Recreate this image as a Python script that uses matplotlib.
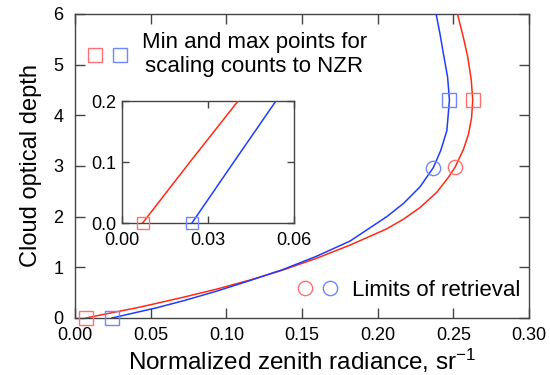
import matplotlib
matplotlib.use("Agg")
import matplotlib.pyplot as plt
from matplotlib.lines import Line2D
from matplotlib.legend_handler import HandlerTuple

plt.rcParams["font.family"] = ["Liberation Sans", "DejaVu Sans"]
plt.rcParams["mathtext.default"] = "regular"

# curves: normalized zenith radiance vs cloud optical depth
red_nzr = [0.0072, 0.0237, 0.0405, 0.0496, 0.0716, 0.0936, 0.1157, 0.1377,
           0.1597, 0.1818, 0.2060, 0.2170, 0.2280, 0.2390, 0.2468, 0.2512,
           0.2567, 0.2600, 0.2620, 0.2628, 0.2618, 0.2595, 0.2565, 0.2527]
red_tau = [0.0, 0.10, 0.20, 0.26, 0.41, 0.57, 0.75, 0.95,
           1.18, 1.44, 1.76, 1.95, 2.18, 2.48, 2.78, 2.98,
           3.33, 3.63, 3.95, 4.30, 4.70, 5.15, 5.55, 6.00]
blue_nzr = [0.0244, 0.0390, 0.0537, 0.0716, 0.0936, 0.1157, 0.1377, 0.1597,
            0.1818, 0.2060, 0.2170, 0.2280, 0.2368, 0.2417, 0.2457, 0.2474,
            0.2462, 0.2434, 0.2412, 0.2386]
blue_tau = [0.0, 0.10, 0.20, 0.34, 0.53, 0.74, 0.96, 1.22,
            1.52, 2.00, 2.26, 2.59, 2.97, 3.31, 3.70, 4.30,
            4.75, 5.22, 5.60, 6.00]

# scaling points (squares) and retrieval limits (circles)
red_sq_nzr, red_sq_tau = [0.0072, 0.2628], [0.0, 4.30]
blue_sq_nzr, blue_sq_tau = [0.0244, 0.2474], [0.0, 4.30]
red_lim_nzr, red_lim_tau = [0.2512], [2.98]
blue_lim_nzr, blue_lim_tau = [0.2368], [2.97]

RED = "#ff2a14"
BLUE = "#1f3dff"
RED_M = "#ff7070"
BLUE_M = "#6f86ff"
SPINE = "#444444"


def style_axes(ax, length):
    for s in ax.spines.values():
        s.set_color(SPINE)
        s.set_linewidth(1.0)
    ax.tick_params(direction="in", top=True, right=True, length=length,
                   width=1.0, color=SPINE, labelsize=13)


fig = plt.figure(figsize=(5.5, 3.75), dpi=100)
ax = fig.add_axes([0.1364, 0.152, 0.8255, 0.8107])

ax.plot(red_nzr, red_tau, color=RED, lw=1.1, zorder=3)
ax.plot(blue_nzr, blue_tau, color=BLUE, lw=1.1, zorder=3)
sq_kw = dict(ls="none", marker="s", ms=10.5, mfc="none", mew=1.0)
ci_kw = dict(ls="none", marker="o", ms=10.3, mfc="none", mew=1.0)
ax.plot(red_sq_nzr, red_sq_tau, mec=RED_M, clip_on=False, zorder=4, **sq_kw)
ax.plot(blue_sq_nzr, blue_sq_tau, mec=BLUE_M, clip_on=False, zorder=4, **sq_kw)
ax.plot(red_lim_nzr, red_lim_tau, mec=RED_M, zorder=4, **ci_kw)
ax.plot(blue_lim_nzr, blue_lim_tau, mec=BLUE_M, zorder=4, **ci_kw)

ax.set_xlim(0, 0.30)
ax.set_ylim(0, 6)
ax.set_xticks([0.00, 0.05, 0.10, 0.15, 0.20, 0.25, 0.30])
ax.set_xticklabels(["0.00", "0.05", "0.10", "0.15", "0.20", "0.25", "0.30"])
ax.set_yticks([0, 1, 2, 3, 4, 5, 6])
style_axes(ax, 7)
ax.tick_params(axis="x", pad=6.5)
ax.tick_params(axis="y", pad=8.4)
ax.set_xlabel("Normalized zenith radiance, sr$^{-1}$", fontsize=17.5, labelpad=2)
ax.set_ylabel("Cloud optical depth", fontsize=17, labelpad=8)

tuple_handler = {tuple: HandlerTuple(ndivide=None, pad=0.45)}
h_sq = (Line2D([], [], mec=RED_M, **sq_kw), Line2D([], [], mec=BLUE_M, **sq_kw))
h_ci = (Line2D([], [], mec=RED_M, **ci_kw), Line2D([], [], mec=BLUE_M, **ci_kw))
leg1 = ax.legend([h_sq], ["Min and max points for\nscaling counts to NZR"],
                 handler_map=tuple_handler, loc="upper left",
                 bbox_to_anchor=(0.0275, 0.94), frameon=False, fontsize=16,
                 handlelength=1.8, handletextpad=0.65, borderpad=0,
                 borderaxespad=0)
leg1.get_texts()[0].set_multialignment("center")
ax.add_artist(leg1)
ax.legend([h_ci], ["Limits of retrieval"], handler_map=tuple_handler,
          loc="center right", bbox_to_anchor=(0.98, 0.092), frameon=False,
          fontsize=16, handlelength=1.8, handletextpad=0.65, borderpad=0,
          borderaxespad=0)

# inset zoom of the low-radiance end
ins = fig.add_axes([0.2218, 0.4053, 0.3127, 0.3253])
ins.plot(red_nzr, red_tau, color=RED, lw=1.1, zorder=3)
ins.plot(blue_nzr, blue_tau, color=BLUE, lw=1.1, zorder=3)
ins.plot(red_sq_nzr, red_sq_tau, mec=RED_M, clip_on=False, zorder=4,
         **dict(sq_kw, ms=8))
ins.plot(blue_sq_nzr, blue_sq_tau, mec=BLUE_M, clip_on=False, zorder=4,
         **dict(sq_kw, ms=8))
ins.set_xlim(0, 0.06)
ins.set_ylim(0, 0.2)
ins.set_xticks([0.00, 0.03, 0.06])
ins.set_xticklabels(["0.00", "0.03", "0.06"])
ins.set_yticks([0.0, 0.1, 0.2])
ins.set_yticklabels(["0.0", "0.1", "0.2"])
style_axes(ins, 5)
ins.tick_params(axis="x", pad=6.5)
ins.tick_params(axis="y", pad=4)

fig.savefig("out.png", dpi=100)
